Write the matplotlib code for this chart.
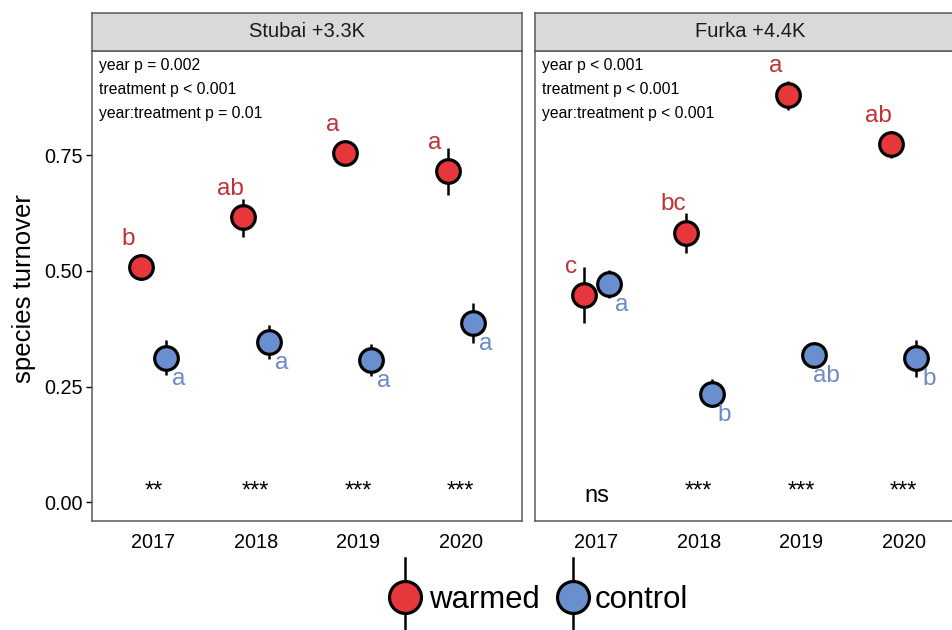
import matplotlib
matplotlib.use("Agg")
import matplotlib.pyplot as plt
from matplotlib.lines import Line2D

plt.rcParams['font.family'] = ['Liberation Sans', 'DejaVu Sans']

# ---------------- data ----------------
years = ['2017', '2018', '2019', '2020']
sites = ['Stubai +3.3K', 'Furka +4.4K']
anova_text = [
    ['year p = 0.002', 'treatment p < 0.001', 'year:treatment p = 0.01'],
    ['year p < 0.001', 'treatment p < 0.001', 'year:treatment p < 0.001'],
]

stubai_warmed = [0.509, 0.617, 0.755, 0.715]
stubai_warmed_lo = [0.480, 0.574, 0.742, 0.665]
stubai_warmed_hi = [0.537, 0.656, 0.768, 0.766]
stubai_control = [0.312, 0.346, 0.307, 0.387]
stubai_control_lo = [0.275, 0.310, 0.273, 0.344]
stubai_control_hi = [0.351, 0.383, 0.342, 0.431]

furka_warmed = [0.448, 0.583, 0.881, 0.774]
furka_warmed_lo = [0.387, 0.539, 0.848, 0.745]
furka_warmed_hi = [0.509, 0.626, 0.911, 0.802]
furka_control = [0.472, 0.235, 0.318, 0.311]
furka_control_lo = [0.442, 0.206, 0.306, 0.271]
furka_control_hi = [0.501, 0.266, 0.330, 0.351]

stubai_warmed_letters = ['b', 'ab', 'a', 'a']
stubai_control_letters = ['a', 'a', 'a', 'a']
furka_warmed_letters = ['c', 'bc', 'a', 'ab']
furka_control_letters = ['a', 'b', 'ab', 'b']

stubai_signif = ['**', '***', '***', '***']
furka_signif = ['ns', '***', '***', '***']

treatments = ['warmed', 'control']

# ---------------- style ----------------
RED = '#E8373C'
BLUE = '#6A8FCF'
RED_TXT = '#BC3236'
BLUE_TXT = '#6B8AC6'
BORDER = '#5a5a5a'

W, H = 952, 630
fig = plt.figure(figsize=(W / 100, H / 100), dpi=100)

panel_top, panel_bot = 51, 521
strip_top = 12.7
panel_lefts = [92, 535]
panel_w = 430

panels = [
    dict(w=stubai_warmed, wlo=stubai_warmed_lo, whi=stubai_warmed_hi,
         c=stubai_control, clo=stubai_control_lo, chi=stubai_control_hi,
         wl=stubai_warmed_letters, cl=stubai_control_letters, sig=stubai_signif),
    dict(w=furka_warmed, wlo=furka_warmed_lo, whi=furka_warmed_hi,
         c=furka_control, clo=furka_control_lo, chi=furka_control_hi,
         wl=furka_warmed_letters, cl=furka_control_letters, sig=furka_signif),
]

dodge = 0.125
xs = list(range(1, len(years) + 1))

for i, (site, p) in enumerate(zip(sites, panels)):
    x0 = panel_lefts[i]
    ax = fig.add_axes([x0 / W, 1 - panel_bot / H, panel_w / W,
                       (panel_bot - panel_top) / H])
    sax = fig.add_axes([x0 / W, 1 - panel_top / H, panel_w / W,
                        (panel_top - strip_top) / H])
    # strip
    sax.set_facecolor('#D9D9D9')
    sax.set_xticks([]); sax.set_yticks([])
    for s in sax.spines.values():
        s.set_color(BORDER); s.set_linewidth(1.1)
    sax.text(0.5, 0.5, site, ha='center', va='center', fontsize=14.5,
             color='#1a1a1a', transform=sax.transAxes)

    for s in ax.spines.values():
        s.set_color(BORDER); s.set_linewidth(1.1)

    xw = [x - dodge for x in xs]
    xc = [x + dodge for x in xs]
    for xx, m, lo, hi, col in [(xw, p['w'], p['wlo'], p['whi'], RED),
                               (xc, p['c'], p['clo'], p['chi'], BLUE)]:
        ax.vlines(xx, lo, hi, color='black', lw=1.8, zorder=2)
        ax.plot(xx, m, 'o', ms=17, mfc=col, mec='black', mew=2.3,
                ls='none', zorder=3)

    for j in range(len(years)):
        ax.text(xs[j] - 0.25, p['w'][j] + 0.048, p['wl'][j], color=RED_TXT,
                fontsize=17.5, ha='center', va='baseline', zorder=4)
        ax.text(xs[j] + 0.25, p['c'][j] - 0.058, p['cl'][j], color=BLUE_TXT,
                fontsize=17.5, ha='center', va='baseline', zorder=4)
        sig = p['sig'][j]
        ax.text(xs[j], 0.011 if sig.startswith('*') else 0.0, sig,
                color='black', fontsize=17, ha='center', va='baseline',
                zorder=4)

    ys_txt = [0.970, 0.918, 0.866]
    for t, yy in zip(anova_text[i], ys_txt):
        ax.text(0.017, yy, t, transform=ax.transAxes, fontsize=11.3,
                ha='left', va='center', color='black')

    ax.set_xlim(0.4, 4.6)
    ax.set_ylim(-0.04, 0.975)
    ax.set_xticks(xs)
    ax.set_xticklabels(years)
    ax.tick_params(axis='x', length=0, pad=9, labelsize=14.3, colors='black')
    if i == 0:
        ax.set_yticks([0.0, 0.25, 0.5, 0.75])
        ax.set_yticklabels(['0.00', '0.25', '0.50', '0.75'])
        ax.tick_params(axis='y', length=4, width=1, pad=3, labelsize=14.3,
                       colors='black')
    else:
        ax.set_yticks([])

fig.text(24 / W, 1 - 289 / H, 'species turnover', rotation=90, ha='center',
         va='center', fontsize=18.5)

# legend (manual, figure coordinates)
leg_y = 596.7
leg_items = [(405, 429.5, RED), (572.7, 595, BLUE)]
for (cx, tx, col), lab in zip(leg_items, treatments):
    fig.add_artist(Line2D([cx / W, cx / W], [1 - 558 / H, 1 - 636 / H],
                          transform=fig.transFigure, color='black', lw=1.8))
    fig.add_artist(Line2D([cx / W], [1 - leg_y / H], transform=fig.transFigure,
                          marker='o', ms=23, mfc=col, mec='black', mew=2.3,
                          ls='none'))
    fig.text(tx / W, 1 - leg_y / H, lab, fontsize=22.4, ha='left',
             va='center_baseline')

fig.savefig('out.png', dpi=100)
